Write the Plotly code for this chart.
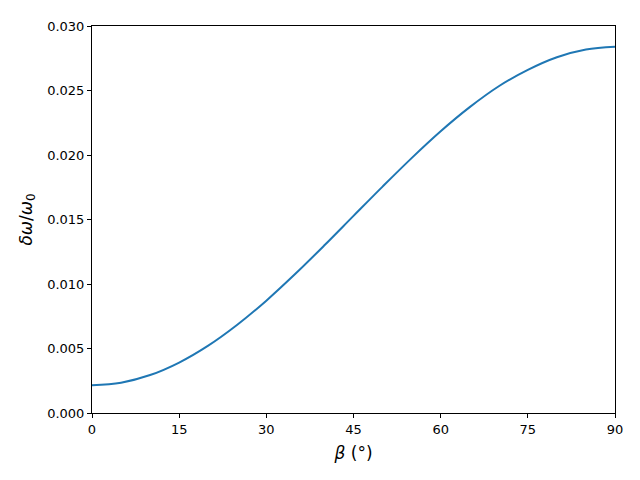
import plotly.graph_objects as go

# angle beta in degrees and the relative shift
beta = [0, 5, 10, 15, 20, 25, 30, 35, 40, 45, 50, 55, 60, 65, 70, 75, 80, 85, 90]
dw = [0.00215, 0.00235, 0.00294, 0.00391, 0.00522, 0.00684, 0.00871, 0.01079,
      0.01300, 0.01528, 0.01755, 0.01976, 0.02184, 0.02371, 0.02533, 0.02660,
      0.02758, 0.02818, 0.02840]

x_ticks = [0, 15, 30, 45, 60, 75, 90]
y_ticks = [0.0, 0.005, 0.010, 0.015, 0.020, 0.025, 0.030]

fig = go.Figure(go.Scatter(x=beta, y=dw, mode="lines", line_shape="spline",
                           line=dict(color="#1f77b4", width=2)))

axis_style = dict(showline=True, linecolor="black", linewidth=1, mirror=True,
                  showgrid=False, zeroline=False, ticks="outside", ticklen=4,
                  tickcolor="black", tickfont=dict(size=13, color="black"))

# page body adds an 8px offset, so margins are shifted to compensate
fig.update_layout(
    width=640, height=480,
    margin=dict(l=84, r=33, t=11, b=75),
    plot_bgcolor="white", paper_bgcolor="white",
    font=dict(family="DejaVu Sans", color="black"),
    showlegend=False,
    xaxis=dict(range=[0, 90], tickvals=x_ticks, ticktext=[str(t) for t in x_ticks],
               title=dict(text="<i>β</i> (°)", font=dict(size=17), standoff=11),
               **axis_style),
    yaxis=dict(range=[0, 0.030], tickvals=y_ticks,
               ticktext=[f"{t:.3f}" for t in y_ticks],
               title=dict(text="<i>δω</i>/<i>ω</i><sub>0</sub>", font=dict(size=17), standoff=10),
               **axis_style),
)

fig.write_html("out.html")
